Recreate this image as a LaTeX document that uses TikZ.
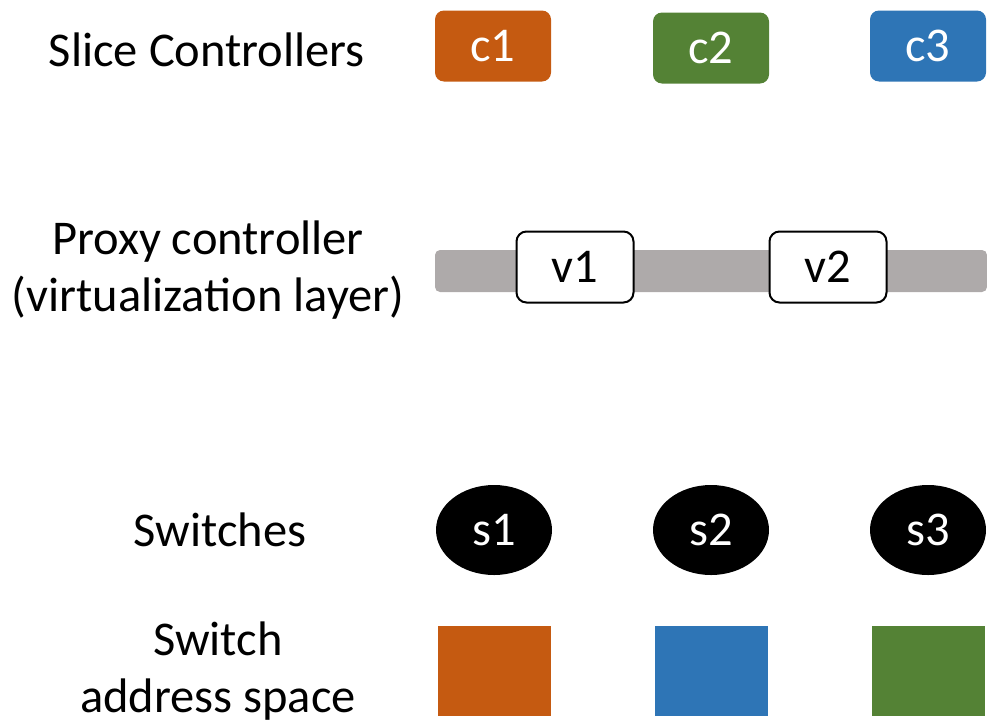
\documentclass[tikz,border=0pt]{standalone}
\usepackage{fontspec}
\setmainfont{Carlito}
\usetikzlibrary{shapes.geometric}
\definecolor{sliceorange}{HTML}{C55A11}
\definecolor{slicegreen}{HTML}{548235}
\definecolor{sliceblue}{HTML}{2E75B6}
\definecolor{layergray}{HTML}{AEAAAA}
\begin{document}
\begin{tikzpicture}[x=1pt,y=-1pt,
  lbl/.style={align=center, inner sep=0pt, font=\fontsize{48.5}{57}\selectfont},
  ctrlbox/.style={rounded corners=9pt, minimum width=116pt, minimum height=71pt,
    inner sep=0pt, text=white, font=\fontsize{48.5}{57}\selectfont},
  vbox/.style={draw=black, line width=2pt, fill=white, rounded corners=10pt,
    minimum width=117pt, minimum height=71pt, inner sep=0pt,
    font=\fontsize{48.5}{57}\selectfont},
  swnode/.style={ellipse, fill=black, minimum width=116pt, minimum height=90pt,
    inner sep=0pt, text=white, font=\fontsize{48.5}{57}\selectfont},
  addrbox/.style={minimum width=113pt, minimum height=90pt, inner sep=0pt}]
\useasboundingbox (0,0) rectangle (987,723);

% row labels
\node[lbl] (lslice) at (207,50) {Slice Controllers};
\node[lbl] (lproxy) at (208,270) {Proxy controller\\(virtualization layer)};
\node[lbl] (lsw) at (220,530) {Switches};
\node[lbl] (laddr) at (218,671) {Switch\\address space};

% slice controllers
\node[ctrlbox, fill=sliceorange] (c1) at (493,46) {c1};
\node[ctrlbox, fill=slicegreen] (c2) at (711,48) {c2};
\node[ctrlbox, fill=sliceblue] (c3) at (928,46) {c3};

% virtualization layer
\node[fill=layergray, rounded corners=5pt, minimum width=552pt, minimum height=42pt,
  inner sep=0pt] (layer) at (711,271) {};
\node[vbox] (v1) at (575,267) {v1};
\node[vbox] (v2) at (828,267) {v2};

% switches
\node[swnode] (s1) at (494,530) {s1};
\node[swnode] (s2) at (711,530) {s2};
\node[swnode] (s3) at (928,530) {s3};

% switch address spaces
\node[addrbox, fill=sliceorange] (a1) at (494,671) {};
\node[addrbox, fill=sliceblue] (a2) at (711,671) {};
\node[addrbox, fill=slicegreen] (a3) at (928,671) {};
\end{tikzpicture}
\end{document}
